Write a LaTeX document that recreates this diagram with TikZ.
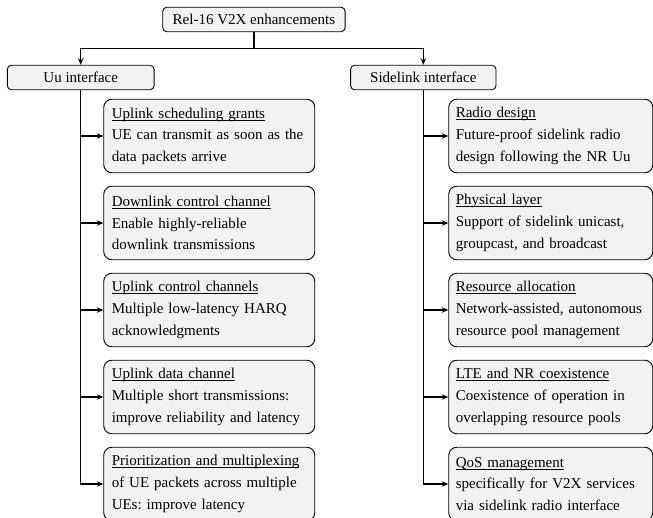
\documentclass[tikz,border=0pt]{standalone}
\usepackage{fontspec}
\setmainfont{Liberation Serif}
\usetikzlibrary{arrows.meta}
\newsavebox\myulbox
\newcommand\myul[1]{\sbox\myulbox{#1}\rlap{\usebox\myulbox}\rule[-2.4pt]{\wd\myulbox}{0.9pt}}
\newcommand\myline[1]{\mbox{#1}}
\definecolor{boxfill}{HTML}{F2F2F2}
\tikzset{
  basebox/.style={draw=black, line width=0.9pt, fill=boxfill,
    font=\fontsize{15}{21.6}\selectfont\frenchspacing},
  topbox/.style={basebox, rounded corners=4pt, minimum height=24.5pt, inner xsep=6pt, inner ysep=0pt},
  lsub/.style={basebox, rounded corners=8pt, anchor=west, text width=195pt, inner xsep=8pt,
    inner ysep=0pt, minimum height=73.5pt, align=left},
  rsub/.style={basebox, rounded corners=8pt, anchor=west, text width=190pt, inner xsep=7pt,
    inner ysep=0pt, minimum height=73.5pt, align=left},
  conn/.style={line width=1.2pt, -{Stealth[length=6.5pt,width=5.5pt]}},
}
\begin{document}
\begin{tikzpicture}[x=1pt,y=-1pt]
\useasboundingbox (0,0) rectangle (653,518);
\node[topbox, minimum width=182.3pt] (root) at (253.9,19.5) {Rel-16 V2X enhancements};
\node[topbox, minimum width=146.7pt] (uu) at (80.7,77.5) {Uu interface};
\node[topbox, minimum width=145.3pt] (sl) at (423.3,77.5) {Sidelink interface};
\coordinate (j) at (253.9,48.3);

\node[lsub] (u1) at (103.3,136) {\myul{Uplink scheduling grants}\\\myline{UE can transmit as soon as the}\\\myline{data packets arrive}};
\node[lsub] (u2) at (103.3,223) {\myul{Downlink control channel}\\\myline{Enable highly-reliable}\\\myline{downlink transmissions}};
\node[lsub] (u3) at (103.3,310) {\myul{Uplink control channels}\\\myline{Multiple low-latency HARQ}\\\myline{acknowledgments}};
\node[lsub] (u4) at (103.3,397) {\myul{Uplink data channel}\\\myline{Multiple short transmissions:}\\\myline{improve reliability and latency}};
\node[lsub] (u5) at (103.3,484) {\myul{Prioritization and multiplexing}\\\myline{of UE packets across multiple}\\\myline{UEs: improve latency}};

\node[rsub] (s1) at (448.3,136) {\myul{Radio design}\\\myline{Future-proof sidelink radio}\\\myline{design following the NR Uu}};
\node[rsub] (s2) at (448.3,223) {\myul{Physical layer}\\\myline{Support of sidelink unicast,}\\\myline{groupcast, and broadcast}};
\node[rsub] (s3) at (448.3,310) {\myul{Resource allocation}\\\myline{Network-assisted, autonomous}\\\myline{resource pool management}};
\node[rsub] (s4) at (448.3,397) {\myul{LTE and NR coexistence}\\\myline{Coexistence of operation in}\\\myline{overlapping resource pools}};
\node[rsub] (s5) at (448.3,484) {\myul{QoS management}\\\myline{specifically for V2X services}\\\myline{via sidelink radio interface}};

\draw[conn] (root.south) -- (j) -| (uu.north);
\draw[conn] (j) -| (sl.north);
\foreach \k in {1,...,5} {
  \draw[conn] (uu.south) |- (u\k.west);
  \draw[conn] (sl.south) |- (s\k.west);
}
\end{tikzpicture}
\end{document}
